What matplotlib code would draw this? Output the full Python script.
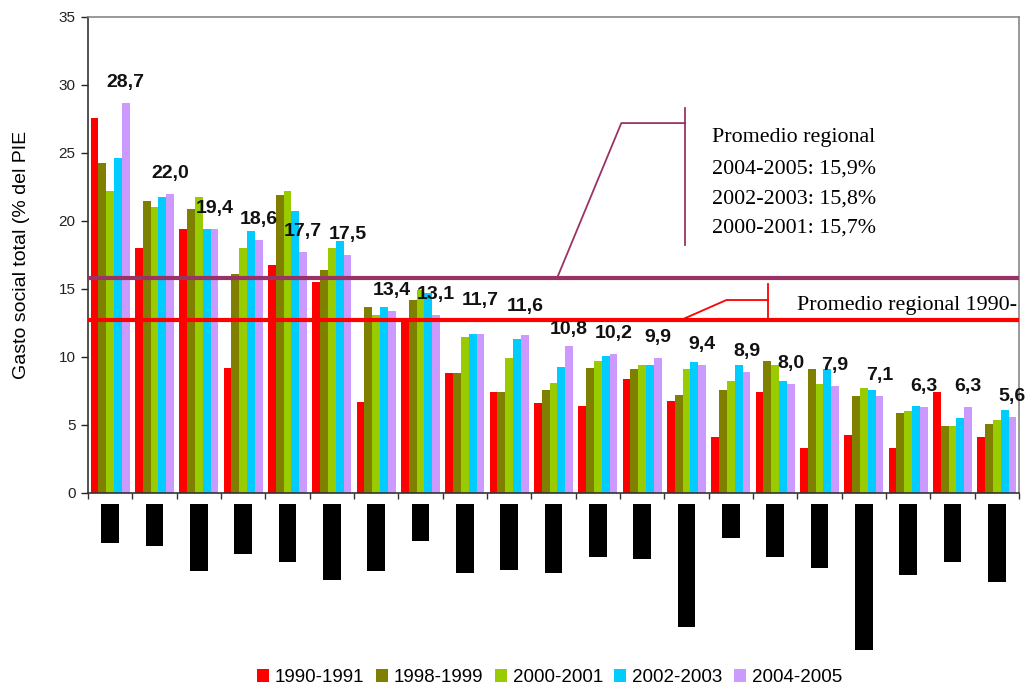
import matplotlib
matplotlib.use("Agg")
import matplotlib.pyplot as plt
from matplotlib.patches import Patch
import numpy as np

# Social spending by country, % of GDP, five periods (countries ranked by 2004-2005)
periods = ["1990-1991", "1998-1999", "2000-2001", "2002-2003", "2004-2005"]
s1990 = [27.6, 18.0, 19.4, 9.2, 16.8, 15.5, 6.7, 12.6, 8.8, 7.4, 6.6,
         6.4, 8.4, 6.8, 4.1, 7.4, 3.3, 4.3, 3.3, 7.4, 4.1]
s1998 = [24.3, 21.5, 20.9, 16.1, 21.9, 16.4, 13.7, 14.2, 8.8, 7.4, 7.6,
         9.2, 9.1, 7.2, 7.6, 9.7, 9.1, 7.1, 5.9, 4.9, 5.1]
s2000 = [22.2, 21.0, 21.8, 18.0, 22.2, 18.0, 13.1, 14.9, 11.5, 9.9, 8.1,
         9.7, 9.4, 9.1, 8.2, 9.4, 8.0, 7.7, 6.0, 4.9, 5.4]
s2002 = [24.6, 21.8, 19.4, 19.3, 20.7, 18.5, 13.7, 14.7, 11.7, 11.3, 9.3,
         10.1, 9.4, 9.6, 9.4, 8.2, 9.1, 7.6, 6.4, 5.5, 6.1]
s2004 = [28.7, 22.0, 19.4, 18.6, 17.7, 17.5, 13.4, 13.1, 11.7, 11.6, 10.8,
         10.2, 9.9, 9.4, 8.9, 8.0, 7.9, 7.1, 6.3, 6.3, 5.6]
series = [s1990, s1998, s2000, s2002, s2004]
colors = ["#FF0000", "#808000", "#99CC00", "#00CCFF", "#CC99FF"]

# regional averages
avg_recent = 15.8
avg_1990 = 12.7

# depth of the masked country-name boxes under the axis
name_box_depth = [39, 42, 67, 50, 58, 76, 67, 37, 69, 66, 69, 53, 55, 123,
                  34, 53, 64, 146, 71, 58, 78]

plt.rcParams["font.family"] = ["Liberation Sans", "DejaVu Sans"]

n = len(s2004)
x = np.arange(n)
w = 0.176

fig = plt.figure(figsize=(10.27, 6.86), dpi=100)
ax = fig.add_axes([88 / 1027, 193 / 686, 931 / 1027, 476 / 686])

for i, (vals, c) in enumerate(zip(series, colors)):
    ax.bar(x + (i - 2) * w, vals, width=w, color=c, linewidth=0, zorder=2)

# value labels above the 2004-2005 bars; a few are nudged clear of the red line
nudge = {8: 13, 9: 8, 10: -4}
for k, (xi, v) in enumerate(zip(x, s2004)):
    ax.annotate(f"{v:.1f}".replace(".", ","), (xi + 2 * w, v),
                xytext=(0, 16 + nudge.get(k, 0)), textcoords="offset pixels",
                ha="center", va="baseline", fontsize=14, fontweight="bold",
                color="#111111", zorder=5)

ax.axhline(avg_recent, color="#993366", lw=3, zorder=3)
ax.axhline(avg_1990, color="#FF0000", lw=3, zorder=3)

# callout for recent regional averages
pc = "#993366"
ax.plot([10.08, 11.53, 12.97], [15.8, 27.2, 27.2], color=pc, lw=1.3, zorder=4)
ax.plot([12.97, 12.97], [28.3, 18.24], color=pc, lw=1.3, zorder=4)
serif = ["Liberation Serif", "DejaVu Serif"]
callout = ["Promedio regional", "2004-2005: 15,9%",
           "2002-2003: 15,8%", "2000-2001: 15,7%"]
for txt, yy in zip(callout, [25.8, 23.46, 21.32, 19.12]):
    ax.text(13.58, yy, txt, family=serif, fontsize=15.8, va="baseline",
            ha="left", color="black")

# callout for the 1990-1991 average
ax.plot([12.93, 13.9, 14.84], [12.8, 14.19, 14.19], color="#FF0000",
        lw=1.3, zorder=4)
ax.plot([14.84, 14.84], [15.37, 12.8], color="#FF0000", lw=1.3, zorder=4)
ax.text(15.5, 13.46, "Promedio regional 1990-", family=serif,
        fontsize=15.8, va="baseline", ha="left", color="black")

ax.set_xlim(-0.5, n - 0.5)
ax.set_ylim(0, 35)
ax.set_yticks(range(0, 36, 5))
ax.set_xticks(np.arange(-0.5, n, 1.0))
ax.set_xticklabels([])
ax.tick_params(axis="y", direction="out", length=5, width=1, pad=4,
               labelsize=11, colors="#222222")
ax.tick_params(axis="x", direction="out", length=4, width=1, color="#333333")
ax.spines["left"].set_color("#333333")
ax.spines["bottom"].set_color("#333333")
ax.spines["top"].set_color("#888888")
ax.spines["right"].set_color("#888888")
for s in ax.spines.values():
    s.set_linewidth(1.2)

fig.text(0.0205, 0.629, "Gasto social total (% del PIE", rotation=90,
         ha="center", va="center", fontsize=14)

# boxes covering the country names
ax2 = fig.add_axes([88 / 1027, 26 / 686, 931 / 1027, 156 / 686])
ax2.bar(x, [-d for d in name_box_depth], width=0.406, color="black")
ax2.set_xlim(-0.5, n - 0.5)
ax2.set_ylim(-156, 0)
ax2.axis("off")

handles = [Patch(facecolor=c, edgecolor="none") for c in colors]
fig.legend(handles, periods, loc="center", bbox_to_anchor=(0.535, 0.012),
           ncol=5, frameon=False, fontsize=13.5, handlelength=0.64,
           handleheight=0.64, handletextpad=0.32, columnspacing=0.6,
           borderpad=0, borderaxespad=0)

fig.savefig("out.png", dpi=100)
